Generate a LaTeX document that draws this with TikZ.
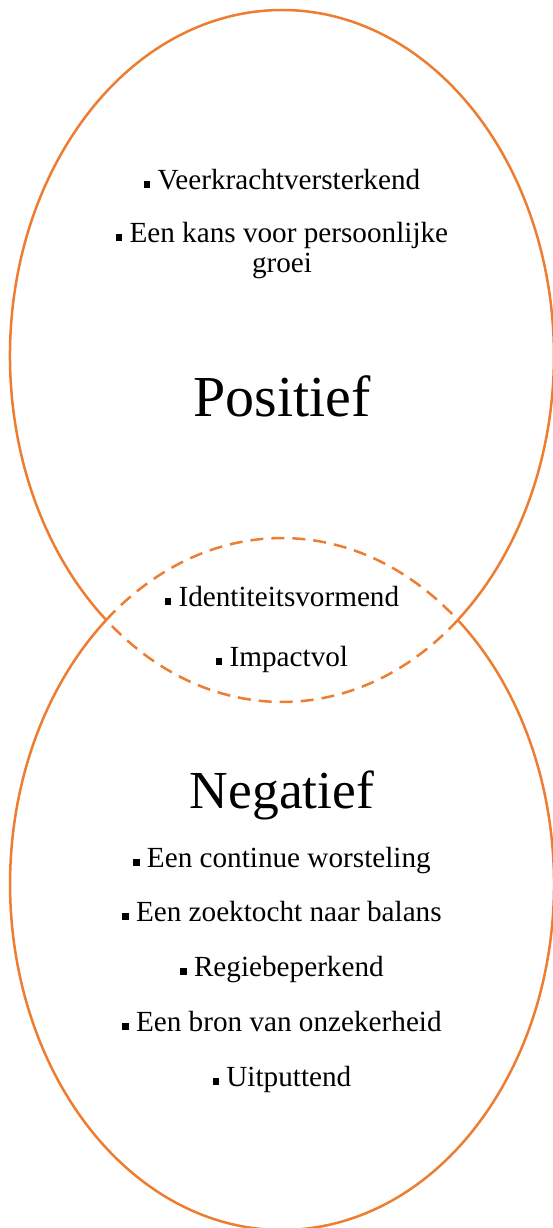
\documentclass[tikz,border=0pt]{standalone}
\usepackage{fontspec}
\setmainfont{Liberation Serif}
\definecolor{vorange}{RGB}{237,125,49}
\newcommand{\bul}{\rule[0.05em]{0.22em}{0.22em}\hspace{0.25em}}
\begin{document}
\begin{tikzpicture}[x=1pt,y=-1pt,
  item/.style={font=\fontsize{29.2}{30}\selectfont, anchor=base, inner sep=0pt, align=center},
  bigp/.style={font=\fontsize{58}{60}\selectfont, anchor=base, inner sep=0pt},
  bign/.style={font=\fontsize{53.5}{56}\selectfont, anchor=base, inner sep=0pt},
  ring/.style={draw=vorange, line width=2.5pt},
  lens/.style={ring, dash pattern=on 13pt off 8pt},
  ell/.style={x radius=272, y radius=346}]
\clip (0,0) rectangle (553,1228);
\coordinate (L) at (106.18,620);
\coordinate (R) at (457.82,620);
% top ellipse, centre (282,356)
\draw[ring] (L) arc[start angle=130.263, end angle=409.737, ell];
\draw[lens] (R) arc[start angle=49.737, end angle=130.263, ell];
% bottom ellipse, centre (282,884)
\draw[ring] (R) arc[start angle=-49.737, end angle=229.737, ell];
\draw[lens] (L) arc[start angle=229.737, end angle=310.263, ell];
\node[item] (p1) at (282,189) {\bul Veerkrachtversterkend};
\node[item] (p2) at (282,272) {\bul Een kans voor persoonlijke\\groei};
\node[bigp] (pos) at (282,416) {Positief};
\node[item] (m1) at (282,606) {\bul Identiteitsvormend};
\node[item] (m2) at (282,666) {\bul Impactvol};
\node[bign] (neg) at (282,808) {Negatief};
\node[item] (n1) at (282,867) {\bul Een continue worsteling};
\node[item] (n2) at (282,921) {\bul Een zoektocht naar balans};
\node[item] (n3) at (282,976) {\bul Regiebeperkend};
\node[item] (n4) at (282,1031) {\bul Een bron van onzekerheid};
\node[item] (n5) at (282,1086) {\bul Uitputtend};
\end{tikzpicture}
\end{document}
